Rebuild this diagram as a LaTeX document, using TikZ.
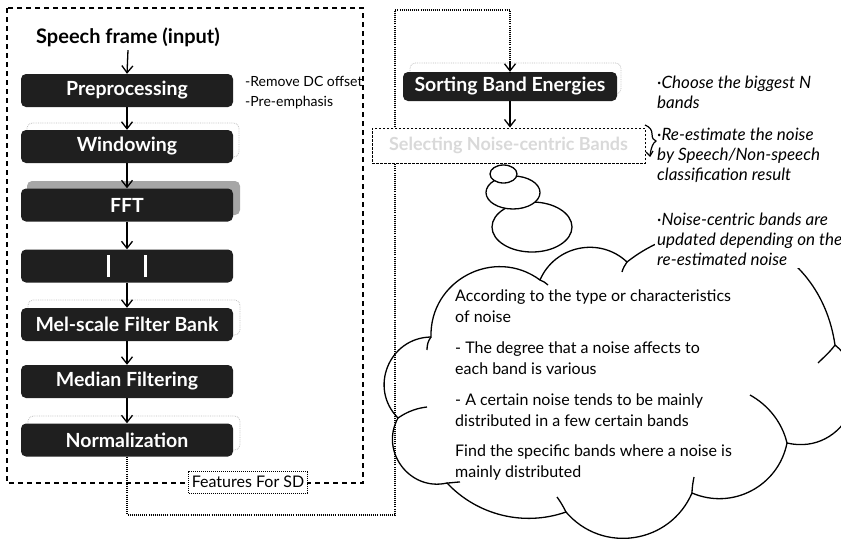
\documentclass[tikz,border=0pt]{standalone}
\usepackage{fontspec}
\setmainfont{Lato}
\usetikzlibrary{arrows.meta}
\begin{document}
\begin{tikzpicture}[x=1pt,y=1pt,
  procbox/.style={fill=black!88, rounded corners=5pt, text=white,
    font=\bfseries\fontsize{19.5}{21}\selectfont, minimum width=212pt,
    minimum height=33pt, inner sep=0pt},
  ghostline/.style={draw=black!25, densely dotted, line width=0.8pt, rounded corners=5pt},
  ghostfill/.style={fill=black!35, rounded corners=5pt},
  flow/.style={-{Straight Barb[length=7pt,width=11pt]}, line width=1.3pt},
  dotline/.style={line width=1.2pt, dash pattern=on 1pt off 1.1pt},
  outerbox/.style={line width=1.4pt, dash pattern=on 5pt off 4pt},
  cloudline/.style={line width=1.3pt},
  note/.style={font=\itshape\fontsize{17}{20}\selectfont, align=left,
    inner sep=2pt, anchor=north west, fill=white},
]
\useasboundingbox (0,0) rectangle (841,-539);

% ---------- thought bubbles ----------
\draw[cloudline, fill=white] (532,-227) ellipse (40 and 25);
\draw[cloudline, fill=white] (513,-192.5) ellipse (27 and 16.5);
\draw[cloudline, fill=white] (503.5,-174) ellipse (13.5 and 9);

% ---------- cloud ----------
\draw[cloudline, fill=white]
  (398,-418) to[bend left=67, looseness=1.23] (431,-337)
  to[bend left=64, looseness=1.18] (540,-280)
  to[bend left=55, looseness=1.08] (627,-262)
  to[bend left=60, looseness=1.2] (835,-345)
  to[bend left=77, looseness=1.39] (787,-443)
  to[bend left=51, looseness=1.05] (692,-493)
  to[bend left=58, looseness=1.12] (566,-512)
  to[bend left=33, looseness=0.93] (447,-483)
  to[bend left=66, looseness=1.2] (398,-418) -- cycle;
% inner stubs of the cloud
\draw[cloudline] (750,-395) .. controls (768,-405) and (782,-422) .. (787,-443);
\draw[cloudline] (835,-345) .. controls (830,-352) and (824,-357) .. (818,-363);
\draw[cloudline] (398,-418) .. controls (408,-411) and (418,-408) .. (427,-407);
\draw[cloudline] (431,-337) .. controls (428,-341) and (427,-345) .. (427,-350);
\draw[cloudline] (540,-280) .. controls (543,-281) and (546,-283) .. (548,-285);
\draw[cloudline] (627,-262) .. controls (625,-265) and (623,-268) .. (622,-272);
\draw[cloudline] (692,-493) .. controls (692,-488) and (693,-482) .. (694,-477);
\draw[cloudline] (566,-512) .. controls (563,-506) and (560,-501) .. (557,-497);
\draw[cloudline] (447,-483) .. controls (451,-483) and (456,-482) .. (460,-482);

\node[anchor=north west, align=left, inner sep=0pt,
      font=\fontsize{16}{21}\selectfont] (cloudtext) at (455,-290)
  {According to the type or characteristics\\
   of noise\\[10pt]
   - The degree that a noise affects to\\
   each band is various\\[10pt]
   - A certain noise tends to be mainly\\
   distributed in a few certain bands\\[9pt]
   Find the specific bands where a noise is\\
   mainly distributed};

% ---------- left column ----------
\node[font=\bfseries\fontsize{20}{22}\selectfont] (in) at (128,-37) {Speech frame (input)};
\node[procbox] (pre) at (127,-90.5) {Preprocessing};
\draw[ghostline] (27,-157) rectangle (239,-123);
\node[procbox] (win) at (127,-146.5) {Windowing};
\fill[ghostfill] (27,-215) rectangle (240,-181);
\node[procbox] (fft) at (127,-205) {FFT};
\node[procbox] (abs) at (127,-266)
  {\rule[-7pt]{2.6pt}{22pt}\hspace{34pt}\rule[-7pt]{2.6pt}{22pt}};
\draw[ghostline] (28,-335) rectangle (240,-300);
\node[procbox] (mel) at (127,-324.5) {Mel-scale Filter Bank};
\node[procbox] (med) at (127,-381.5) {Median Filtering};
\draw[ghostline] (28,-450) rectangle (240,-416);
\node[procbox] (norm) at (127,-440) {Normalization};

\draw[flow] (in.south) -- (pre.north);
\draw[flow] (pre.south) -- (win.north);
\draw[flow] (win.south) -- (fft.north);
\draw[flow] (fft.south) -- (abs.north);
\draw[flow] (abs.south) -- (mel.north);
\draw[flow] (mel.south) -- (med.north);
\draw[flow] (med.south) -- (norm.north);

\node[anchor=west, inner sep=0pt, font=\fontsize{14}{16}\selectfont] (rdc) at (245,-81) {-Remove DC offset};
\node[anchor=west, inner sep=0pt, font=\fontsize{14}{16}\selectfont] (pem) at (245,-103) {-Pre-emphasis};

\draw[outerbox] (7,-8) rectangle (363,-483);
\node[draw, line width=0.9pt, dash pattern=on 1pt off 1pt, fill=white,
      font=\fontsize{16}{18}\selectfont, inner xsep=3pt, minimum height=22pt]
      (feat) at (248,-482) {Features For SD};

% ---------- right column ----------
\draw[ghostline] (410,-94) rectangle (621,-63);
\node[procbox, minimum width=214pt, minimum height=29pt] (sort) at (510,-86.5) {Sorting Band Energies};

\coordinate (c1) at (127,-515);
\coordinate (c2) at (395,-515);
\coordinate (c3) at (395,-10);
\coordinate (c4) at (510,-10);
\draw[dotline] (norm.south) -- (c1) -- (c2) -- (c3) -- (c4) -- (c4 |- sort.north);
\draw[flow] (510,-62) -- (sort.north);

\node[draw, line width=1pt, dash pattern=on 2.5pt off 1.5pt, fill=white,
      minimum width=273pt, minimum height=35pt, text=black!15,
      font=\bfseries\fontsize{18}{20}\selectfont] (sel) at (508.5,-145.5)
      {Selecting Noise-centric Bands};
\draw[flow] (sort.south) -- (sort.south |- sel.north);

\node[note] (n1) at (655,-74) {·Choose the biggest N\\ bands};
\node[note] (n2) at (655,-126) {·Re-estimate the noise\\ by Speech/Non-speech\\ classification result};
\node[note] (n3) at (655,-211) {·Noise-centric bands are\\ updated depending on the\\ re-estimated noise};

\draw[line width=1.2pt] (645,-125) .. controls (650,-127) and (652,-130) .. (652,-134)
  .. controls (652,-139) and (654,-140) .. (656,-141)
  .. controls (653,-143) and (651,-147) .. (650,-156);
\draw[line width=1.2pt] (646,-152) -- (650,-156) -- (653,-151);
\end{tikzpicture}
\end{document}
